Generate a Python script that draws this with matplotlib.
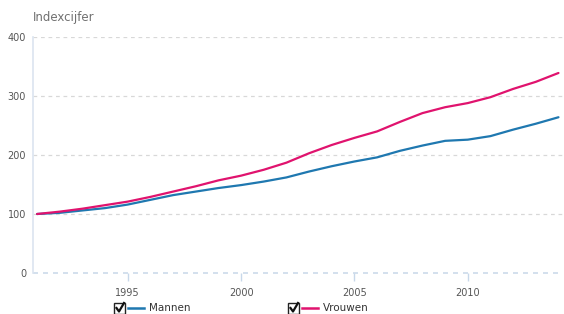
import matplotlib
matplotlib.use("Agg")
import matplotlib.pyplot as plt
from matplotlib.patches import Rectangle
from matplotlib.lines import Line2D

years = list(range(1991, 2015))
mannen = [100, 102, 106, 110, 116, 124, 132, 138, 144, 149, 155, 162,
          172, 181, 189, 196, 207, 216, 224, 226, 232, 243, 253, 264]
vrouwen = [100, 104, 109, 115, 121, 129, 138, 147, 157, 165, 175, 187,
           203, 217, 229, 240, 256, 271, 281, 288, 298, 312, 324, 339]
series_names = ["Mannen", "Vrouwen"]
colors = ["#1f78b0", "#e0136e"]
yticks = [0, 100, 200, 300, 400]
xticks = [1995, 2000, 2005, 2010]

W, H = 564, 314
fig = plt.figure(figsize=(W / 100, H / 100), dpi=100)
ax = fig.add_axes([33 / W, (H - 273) / H, (563 - 33) / W, (273 - 37) / H])

ax.plot(years, mannen, color=colors[0], lw=1.6, solid_capstyle="round")
ax.plot(years, vrouwen, color=colors[1], lw=1.6, solid_capstyle="round")

ax.set_xlim(1990.82, 2014.2)
ax.set_ylim(0, 400)
ax.set_yticks(yticks)
ax.set_xticks(xticks)
for y in yticks[1:]:
    ax.axhline(y, color="#d8d8d8", lw=0.9, ls=(0, (3, 3)), zorder=0)
ax.axhline(0, color="#ccdaea", lw=1.2, ls=(0, (3, 3)), zorder=0, clip_on=False)

for s in ["top", "right", "bottom"]:
    ax.spines[s].set_visible(False)
ax.spines["left"].set_color("#dbe4f0")
ax.spines["left"].set_linewidth(1.2)
ax.tick_params(axis="y", length=0, pad=5, labelsize=7, labelcolor="#555555")
ax.tick_params(axis="x", length=6, width=1, color="#c8d8ea", pad=5,
               labelsize=7, labelcolor="#555555")

fig.text(33 / W, 1 - 17 / H, "Indexcijfer", fontsize=8.5, color="#707070",
         ha="left", va="center")

# legend with checkbox glyphs
def legend_item(x0, color, label):
    yc = 308
    box = Rectangle((x0 / W, (H - yc - 5.5) / H), 11 / W, 11 / H,
                    transform=fig.transFigure, fill=False, ec="#222222", lw=1.0)
    fig.patches.append(box)
    fig.lines.append(Line2D([(x0 + 2.5) / W, (x0 + 5) / W, (x0 + 10) / W],
                            [(H - yc) / H, (H - yc - 3.5) / H, (H - yc + 5) / H],
                            transform=fig.transFigure, color="#111111", lw=1.6))
    fig.lines.append(Line2D([(x0 + 14) / W, (x0 + 30) / W],
                            [(H - yc) / H, (H - yc) / H],
                            transform=fig.transFigure, color=color, lw=1.8))
    fig.text((x0 + 35) / W, (H - yc) / H, label, fontsize=7.5, color="#333333",
             ha="left", va="center")

legend_item(114, colors[0], series_names[0])
legend_item(288, colors[1], series_names[1])

fig.savefig("out.png", dpi=100)
